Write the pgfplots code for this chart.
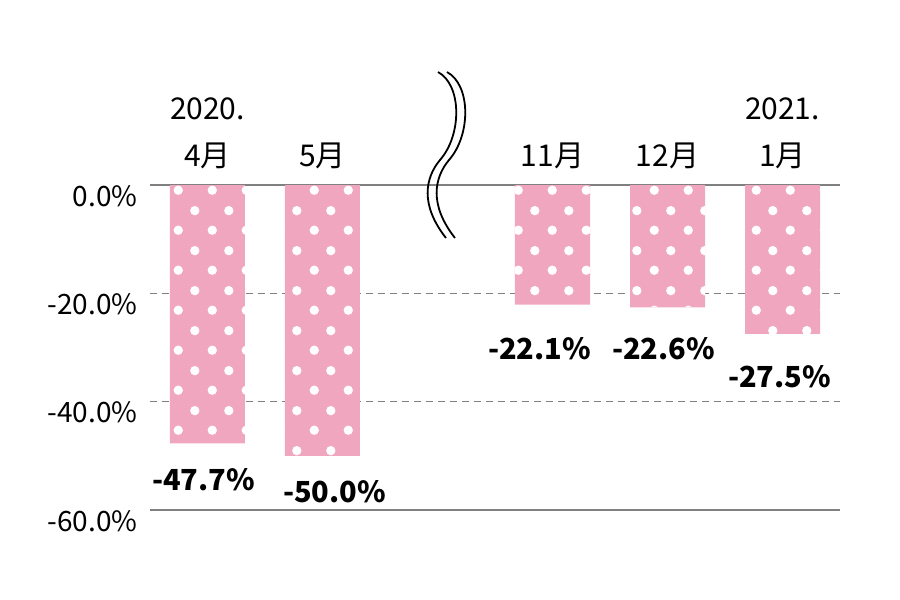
\documentclass[border=0pt]{standalone}
\usepackage{fontspec}
\setmainfont{Noto Sans CJK JP}
\usepackage{pgfplots}
\pgfplotsset{compat=1.18}
\usetikzlibrary{patterns.meta}

\definecolor{barpink}{RGB}{240,166,191}
\definecolor{linegray}{RGB}{128,128,128}

% white polka dots, rows staggered
\tikzdeclarepattern{
  name=polka,
  type=uncolored,
  bottom left={(0pt,0pt)},
  top right={(17pt,20pt)},
  tile size={(17pt,20pt)},
  code={
    \fill (4.25pt,5pt) circle (2.4pt);
    \fill (12.75pt,15pt) circle (2.4pt);
  }
}

% value label: #1 gap below the bar end, #2 twice the sideways shift, #3 text
\protected\def\vlab#1#2#3{%
  \raisebox{0pt}[\dimexpr\height+#1\relax]{\makebox[0pt]{\kern#2\relax#3}}}

\begin{document}
\begin{tikzpicture}
\useasboundingbox (-75pt,-45pt) rectangle (375pt,255pt);
\begin{axis}[
  scale only axis,
  width=345pt, height=162.5pt,
  at={(0pt,0pt)}, anchor=south west,
  xmin=-0.5, xmax=5.5, ymin=-60, ymax=0,
  clip=false,
  axis line style={draw=none},
  tick style={draw=none},
  xtick={0,1,3,4,5},
  xticklabels={{2020.\\4月},{5月},{11月},{12月},{2021.\\1月}},
  xticklabel pos=upper,
  xticklabel style={align=center, anchor=south, inner sep=0pt, yshift=8pt,
    font=\fontsize{15}{23.5}\selectfont},
  ytick={-40,-20},
  yticklabels={-40.0\%,-20.0\%},
  extra y ticks={-60,0},
  extra y tick labels={-60.0\%,0.0\%},
  extra y tick style={grid=major,
    major grid style={solid, draw=linegray, line width=0.8pt}},
  ymajorgrids,
  major grid style={draw=linegray, line width=0.6pt, dash pattern=on 3.5pt off 2.5pt},
  yticklabel style={anchor=north east, inner sep=0pt, xshift=-6pt,
    font=\fontsize{14}{16}\selectfont},
]
\addplot[ybar, bar width=37.5pt, fill=barpink, draw=none,
  nodes near coords, nodes near coords align={vertical},
  point meta=explicit symbolic,
  every node near coord/.append style={font=\fontsize{14.5}{17}\selectfont\bfseries,
    anchor=north, inner sep=0pt, text=black}]
  coordinates {
    (0,-47.7)[{\vlab{12.5pt}{-4pt}{-47.7\%}}]
    (1,-50.0)[{\vlab{12pt}{12pt}{-50.0\%}}]
    (3,-22.1)[{\vlab{16pt}{-13pt}{-22.1\%}}]
    (4,-22.6)[{\vlab{15pt}{-4pt}{-22.6\%}}]
    (5,-27.5)[{\vlab{15.5pt}{-3pt}{-27.5\%}}]
  };
\addplot[ybar, bar width=37.5pt, draw=none, fill=none,
  pattern={polka}, pattern color=white]
  coordinates {(0,-47.7) (1,-50.0) (3,-22.1) (4,-22.6) (5,-27.5)};
\end{axis}

% axis break mark
\begin{scope}[x=0.5pt, y=-0.5pt, shift={(-75pt,255pt)}, line width=0.9pt]
  \draw (438,72) .. controls (462,85) and (462,135) .. (440,160)
        .. controls (425,178) and (420,205) .. (446,238);
  \draw (447,72) .. controls (471,85) and (471,135) .. (449,160)
        .. controls (434,178) and (429,205) .. (455,238);
\end{scope}
\end{tikzpicture}
\end{document}
